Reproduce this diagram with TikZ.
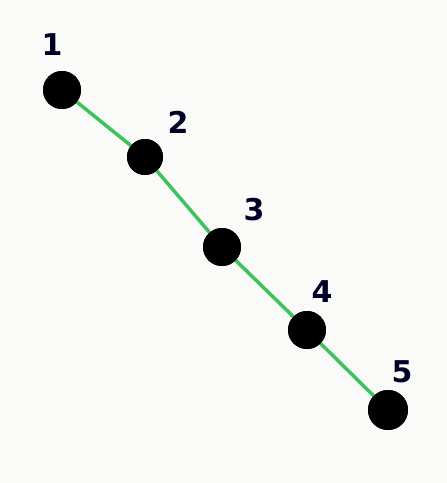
\documentclass[tikz,border=0pt]{standalone}
\usepackage{fontspec}
\setmainfont{DejaVu Sans}
\definecolor{paper}{RGB}{250,250,248}
\definecolor{edgegreen}{RGB}{60,195,95}
\tikzset{
  dot/.style={circle,fill=black,minimum size=38pt,inner sep=0pt},
  lbl/.style={font=\fontsize{30}{30}\selectfont\bfseries,text=black!85!blue},
  edge/.style={draw=edgegreen,line width=3.5pt}
}
\begin{document}
\begin{tikzpicture}[x=1pt,y=-1pt]
\fill[paper] (0,0) rectangle (447,483);
\useasboundingbox (0,0) rectangle (447,483);
\node[dot] (n1) at (62,90) {};
\node[dot,minimum size=36pt] (n2) at (145,157) {};
\node[dot] (n3) at (222,247) {};
\node[dot] (n4) at (307,330) {};
\node[dot,minimum size=40pt] (n5) at (388,410) {};
\begin{scope}[on background layer/.try]
\end{scope}
\draw[edge] (n1.center) -- (n2.center) -- (n3.center) -- (n4.center) -- (n5.center);
\node[dot] at (n1) {};
\node[dot,minimum size=36pt] at (n2) {};
\node[dot] at (n3) {};
\node[dot] at (n4) {};
\node[dot,minimum size=40pt] at (n5) {};
\node[lbl] (l1) at (52,45) {1};
\node[lbl] (l2) at (178,122) {2};
\node[lbl] (l3) at (254,210) {3};
\node[lbl] (l4) at (322,292) {4};
\node[lbl] (l5) at (402,372) {5};
\end{tikzpicture}
\end{document}
